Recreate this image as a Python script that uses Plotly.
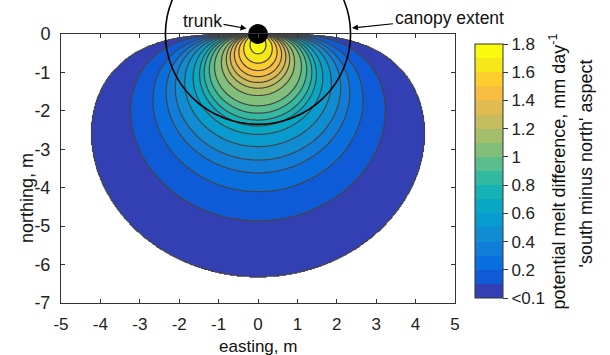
import numpy as np
import plotly.graph_objects as go

# ---------------- data ----------------
# contour levels (mm/day) and, for each, its depth below the trunk on the
# centre line (m) and its half-width / depth ratio
levels = [0.0, 0.1, 0.2, 0.3, 0.4, 0.5, 0.6, 0.7, 0.8, 0.9,
          1.0, 1.1, 1.2, 1.3, 1.4, 1.5, 1.6, 1.7]
depth_m = [6.33, 4.86, 4.10, 3.61, 3.28, 2.93, 2.61, 2.39, 2.24, 2.06,
           1.87, 1.60, 1.41, 1.26, 1.11, 0.95, 0.76, 0.52]
width_ratio = [0.67, 0.665, 0.65, 0.645, 0.64, 0.635, 0.63, 0.62, 0.61, 0.60,
               0.59, 0.58, 0.57, 0.56, 0.54, 0.51, 0.48, 0.39]
peak_value = 1.8
canopy_radius = 2.35
trunk_xy = (0.0, 0.0)

x_ticks = [-5, -4, -3, -2, -1, 0, 1, 2, 3, 4, 5]
x_tick_text = ["-5", "-4", "-3", "-2", "-1", "0", "1", "2", "3", "4", "5"]
y_ticks = [0, -1, -2, -3, -4, -5, -6, -7]
y_tick_text = ["0", "-1", "-2", "-3", "-4", "-5", "-6", "-7"]
cbar_vals = [0, 0.2, 0.4, 0.6, 0.8, 1.0, 1.2, 1.4, 1.6, 1.8]
cbar_text = ["<0.1", "0.2", "0.4", "0.6", "0.8", "1", "1.2", "1.4", "1.6", "1.8"]

# ---------------- colours (parula) ----------------
par_t = np.array([0, 4, 8, 12, 16, 20, 24, 28, 32, 36, 40, 44, 48, 52, 56, 60, 63]) / 63
par_rgb = np.array([
    [0.2081, 0.1663, 0.5292], [0.1959, 0.2645, 0.7279], [0.0117, 0.3875, 0.8820],
    [0.0498, 0.4586, 0.8641], [0.0793, 0.5200, 0.8312], [0.0343, 0.5966, 0.8199],
    [0.0228, 0.6535, 0.7768], [0.0843, 0.6928, 0.7062], [0.2178, 0.7250, 0.6193],
    [0.3953, 0.7459, 0.5244], [0.5709, 0.7485, 0.4494], [0.7184, 0.7411, 0.3905],
    [0.8507, 0.7299, 0.3360], [0.9739, 0.7314, 0.2666], [0.9880, 0.8066, 0.1794],
    [0.9598, 0.9218, 0.0948], [0.9763, 0.9831, 0.0538]])


def parula(t):
    return "rgb(%d,%d,%d)" % tuple(int(round(255 * np.interp(t, par_t, par_rgb[:, c]))) for c in range(3))


nb = len(levels)
band_colors = [parula((j + 1) / nb) for j in range(nb)]

# contour fill colourscale: white below first level, then the bands
fill_scale = [[0.0, "rgb(255,255,255)"]] + [[(j + 1) / nb, band_colors[j]] for j in range(nb)]
# colorbar scale: stepped
cb_scale = []
for j in range(nb):
    cb_scale.append([j / nb, band_colors[j]])
    cb_scale.append([(j + 1) / nb, band_colors[j]])

# ---------------- field built from the contour geometry ----------------
kk = np.linspace(0.05, 5, 5000)
phs = np.arctan(1 / np.sqrt(kk))
rat = np.cos(phs) ** kk * np.sin(phs)
shape_k = [float(kk[np.argmin(abs(rat - q))]) for q in width_ratio]

xs = np.round(np.linspace(-5, 5, 401), 4)
ys = np.round(np.linspace(-7, 0, 281), 4)
X, Y = np.meshgrid(xs, ys)
r = np.hypot(X - trunk_xy[0], Y - trunk_xy[1])
c = np.clip(np.cos(np.arctan2(np.abs(X), -Y)), 0, 1)
R = np.array([d * c ** k for d, k in zip(depth_m, shape_k)])
Z = np.full(X.shape, -0.1)
with np.errstate(divide="ignore", invalid="ignore"):
    for i in range(nb - 1):
        m = (r <= R[i]) & (r > R[i + 1])
        Z[m] = levels[i] + (R[i][m] - r[m]) / (R[i][m] - R[i + 1][m]) * (levels[i + 1] - levels[i])
    m = r <= R[-1]
    Z[m] = levels[-1] + (R[-1][m] - r[m]) / R[-1][m] * (peak_value - levels[-1])
Z[np.isnan(Z)] = peak_value
Z = np.round(Z, 4)

FONT = "Liberation Sans, Arial, sans-serif"

fig = go.Figure()
fig.add_trace(go.Contour(
    x=xs, y=ys, z=Z, autocontour=False,
    contours=dict(start=levels[0], end=levels[-1], size=0.1, coloring="fill"),
    colorscale=fill_scale, showscale=False,
    line=dict(color="rgb(68,68,68)", width=1.2, smoothing=0),
    hoverinfo="skip"))

# colour bar holder
fig.add_trace(go.Scatter(
    x=[-20], y=[-20], mode="markers", hoverinfo="skip", showlegend=False,
    marker=dict(color=[0.9], colorscale=cb_scale, cmin=0, cmax=1.8, showscale=True,
                colorbar=dict(thickness=28, thicknessmode="pixels", len=254, lenmode="pixels",
                              x=(475 - 61) / 394, xanchor="left", xpad=0,
                              y=(303 - 171) / 269, yanchor="middle", ypad=0,
                              outlinewidth=1, outlinecolor="#333",
                              tickmode="array", tickvals=cbar_vals, ticktext=cbar_text,
                              ticks="outside", ticklen=5, tickcolor="#333",
                              tickfont=dict(family=FONT, size=17, color="#222")))))

# trunk
fig.add_trace(go.Scatter(x=[trunk_xy[0]], y=[trunk_xy[1]], mode="markers", cliponaxis=False,
                         marker=dict(size=20, color="black"), hoverinfo="skip", showlegend=False))

xr = (x_ticks[0], x_ticks[-1])
yr = (y_ticks[-1], y_ticks[0])


def px(v):
    return (v - xr[0]) / (xr[1] - xr[0])


def py(v):
    return (v - yr[0]) / (yr[1] - yr[0])


fig.add_shape(type="circle", xref="paper", yref="paper",
              x0=px(trunk_xy[0] - canopy_radius), x1=px(trunk_xy[0] + canopy_radius),
              y0=py(trunk_xy[1] - canopy_radius), y1=py(trunk_xy[1] + canopy_radius),
              line=dict(color="black", width=1.6), layer="above")

ann_font = dict(family=FONT, size=17.5, color="#111")
fig.add_annotation(xref="paper", yref="paper", x=(246.5 - 61) / 394, y=(303 - 28.5) / 269,
                   ax=-44, ay=-8, text="trunk", showarrow=True, arrowhead=2, arrowsize=1,
                   arrowwidth=1.2, arrowcolor="black", standoff=0, font=ann_font)
fig.add_annotation(xref="paper", yref="paper", x=(352 - 61) / 394, y=(303 - 28) / 269,
                   ax=97, ay=-10, text="canopy extent", showarrow=True, arrowhead=2, arrowsize=1,
                   arrowwidth=1.2, arrowcolor="black", standoff=0, font=ann_font)

lab_font = dict(family=FONT, size=18, color="#111")
fig.add_annotation(xref="paper", yref="paper", x=px(0), y=(303 - 346) / 269, text="easting, m",
                   showarrow=False, font=dict(family=FONT, size=17, color="#111"),
                   yanchor="middle", borderpad=0)
fig.add_annotation(xref="paper", yref="paper", x=(15 - 61) / 394, y=(303 - 198) / 269,
                   text="northing, m", textangle=-90, showarrow=False, font=lab_font)
fig.add_annotation(xref="paper", yref="paper", x=(571 - 61) / 394, y=(303 - 172) / 269,
                   text="potential melt difference, mm day<sup>-1</sup>", textangle=-90,
                   showarrow=False, font=lab_font)
fig.add_annotation(xref="paper", yref="paper", x=(597 - 61) / 394, y=(303 - 163.5) / 269,
                   text="'south minus north' aspect", textangle=-90,
                   showarrow=False, font=lab_font)

axis_common = dict(showgrid=False, zeroline=False, showline=True, linecolor="#333", linewidth=1,
                   mirror="ticks", ticks="inside", ticklen=4, tickcolor="#333")
fig.update_xaxes(range=list(xr), tickmode="array", tickvals=x_ticks, ticktext=x_tick_text,
                 ticklabelstandoff=6, tickfont=dict(family=FONT, size=17, color="#222"), **axis_common)
fig.update_yaxes(range=list(yr), tickmode="array", tickvals=y_ticks, ticktext=y_tick_text,
                 ticklabelstandoff=6, tickfont=dict(family=FONT, size=18, color="#222"), **axis_common)

fig.update_layout(width=610, height=355,
                  margin=dict(l=61, r=155, t=34, b=52, autoexpand=False),
                  paper_bgcolor="white", plot_bgcolor="white", showlegend=False,
                  font=dict(family=FONT))
fig.write_html("out.html", config={"displayModeBar": False},
               post_script="document.body.style.margin='0';document.body.style.overflow='hidden';")
